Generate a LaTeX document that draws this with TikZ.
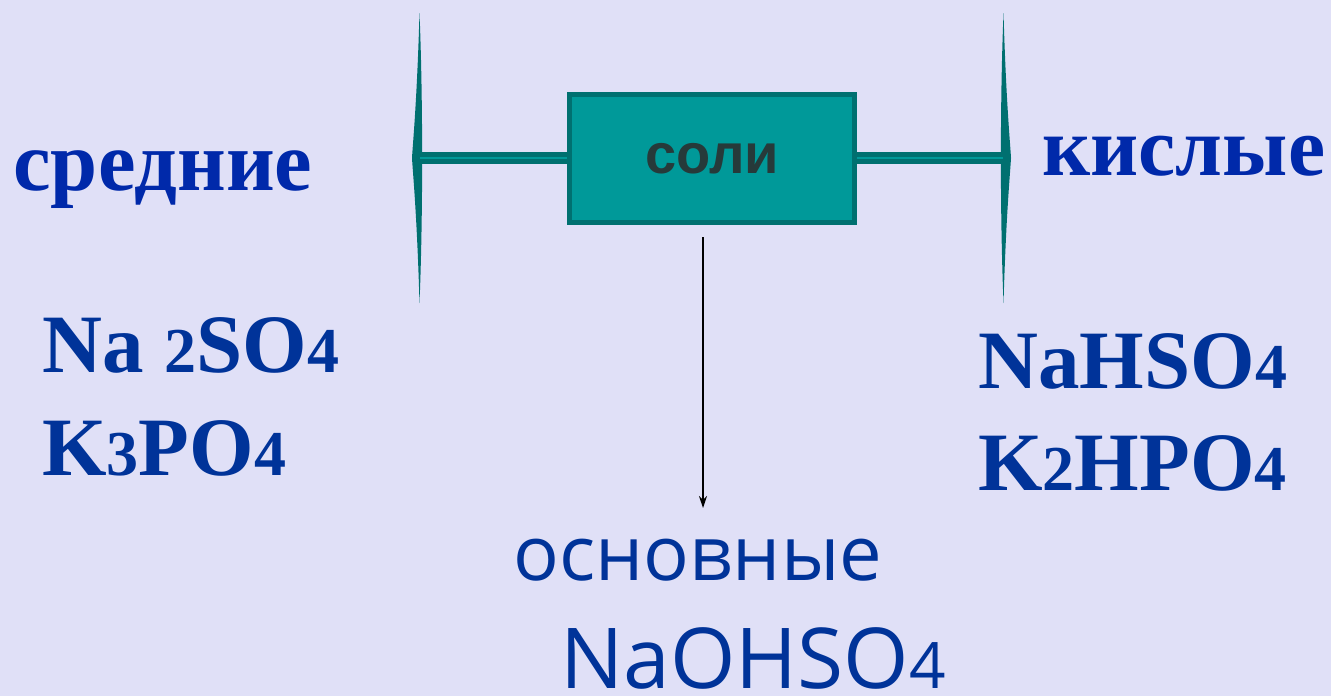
\documentclass[tikz,border=0pt]{standalone}
\usepackage{fontspec}
\setmainfont{Liberation Serif}
\newfontfamily\boxfont{Liberation Sans}
\newfontfamily\handfont{Open Sans}
\usetikzlibrary{positioning,arrows.meta}

\definecolor{bgcol}{RGB}{224,224,247}
\definecolor{tealdark}{RGB}{0,112,112}
\definecolor{tealmid}{RGB}{0,153,153}
\definecolor{boxtext}{RGB}{38,58,58}
\definecolor{headblue}{RGB}{0,41,170}
\definecolor{formblue}{RGB}{0,51,153}

% smaller digits in the formulas
\newcommand{\sdig}[1]{{\fontsize{32}{32}\selectfont #1}}

\begin{document}
\begin{tikzpicture}[x=0.5pt,y=-0.5pt,
  heading/.style={text=headblue, font=\bfseries\fontsize{42.3}{42.3}\selectfont, inner sep=0pt, anchor=base west},
  formula/.style={text=formblue, font=\bfseries\fontsize{41.5}{41.5}\selectfont, inner sep=0pt, anchor=base west},
  handtext/.style={text=formblue, inner sep=0pt, anchor=base west},
  saltbox/.style={draw=tealdark, fill=tealmid, line width=2.5pt, minimum width=142.5pt, minimum height=64pt, text=boxtext, font=\boxfont\bfseries\fontsize{28}{28}\selectfont},
  bar/.style={draw=tealdark, line width=2.5pt, double=tealmid, double distance=1pt},
  bracket/.style={fill=tealdark}]

  \fill[bgcol] (0,0) rectangle (1331,696);
  \useasboundingbox (0,0) rectangle (1331,696);

  % brackets
  \fill[bracket] (419.5,13) .. controls (423,100) and (423,216) .. (419.5,303)
    .. controls (417,216) and (413,175) .. (412,158)
    .. controls (413,141) and (417,100) .. cycle;
  \fill[bracket] (1003.5,13) .. controls (1000,100) and (1000,216) .. (1003.5,303)
    .. controls (1006,216) and (1010,175) .. (1011,158)
    .. controls (1010,141) and (1006,100) .. cycle;
  \coordinate (lbr) at (420,158);
  \coordinate (rbr) at (1003,158);

  \node[saltbox] (soli) at (712,158.5) {соли};

  \draw[bar] (lbr) -- (soli.west |- lbr);
  \draw[bar] (soli.east |- rbr) -- (rbr);

  % arrow
  \coordinate (arrtop) at (703,237);
  \coordinate (arrend) at (703,508);
  \draw[line width=0.6pt, -{Stealth[length=6pt,width=4pt]}] (arrtop) -- (arrend);

  \node[heading] (sred) at (13,190) {средние};
  \node[heading, font=\bfseries\fontsize{41.8}{41.8}\selectfont] (kisl) at (1042,175) {кислые};

  \node[formula] (na2so4) at (42,372) {Na \sdig{2}SO\sdig{4}};
  \node[formula] (k3po4) at (42,475) {K\sdig{3}PO\sdig{4}};
  \node[formula] (nahso4) at (978,388) {NaHSO\sdig{4}};
  \node[formula] (k2hpo4) at (978,490) {K\sdig{2}HPO\sdig{4}};

  \node[handtext, font=\handfont\fontsize{38}{38}\selectfont] (osn) at (513,580) {основные};
  \node[handtext, font=\handfont\fontsize{42}{42}\selectfont] (naoh) at (560,688) {NaOHSO\fontsize{32}{32}\selectfont 4};
\end{tikzpicture}
\end{document}
